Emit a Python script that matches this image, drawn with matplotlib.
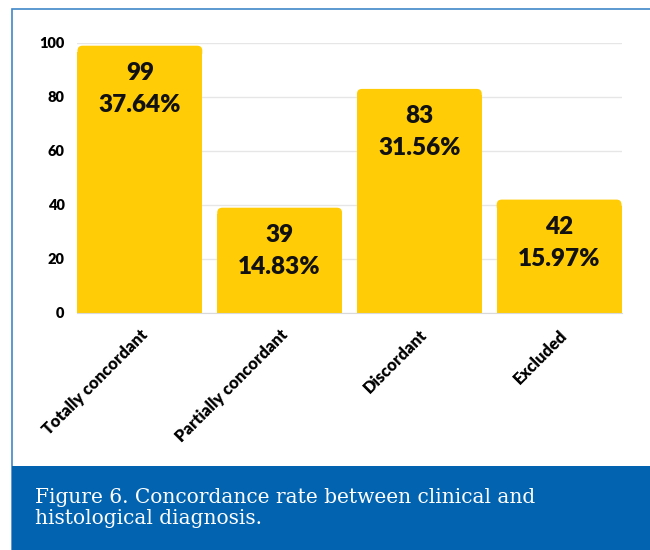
import matplotlib.pyplot as plt
from matplotlib.patches import Rectangle, FancyBboxPatch
from matplotlib.transforms import ScaledTranslation

categories = ['Totally concordant', 'Partially concordant', 'Discordant', 'Excluded']
counts = [99, 39, 83, 42]
percents = ['37.64%', '14.83%', '31.56%', '15.97%']
yticks = [0, 20, 40, 60, 80, 100]
caption = 'Figure 6. Concordance rate between clinical and\nhistological diagnosis.'

BAR_COLOR = '#FFCC05'
BLUE = '#0264B1'


def main():
    plt.rcParams['font.family'] = ['Lato', 'DejaVu Sans']
    fig = plt.figure(figsize=(6.5, 5.5), dpi=100)

    # outer frame and caption band
    fig.patches.append(Rectangle((12 / 650, 0), 1, 541 / 550, transform=fig.transFigure,
                                 fill=False, edgecolor='#3F86C8', linewidth=1.2))
    fig.patches.append(Rectangle((12 / 650, 0), 1, 84 / 550, transform=fig.transFigure,
                                 facecolor=BLUE, edgecolor='none'))
    fig.text(35 / 650, 42 / 550, caption, transform=fig.transFigure, color='white',
             fontsize=14.5, family=['DejaVu Serif'], va='center', ha='left',
             linespacing=1.15)

    ax = fig.add_axes([77 / 650, 237 / 550, 545 / 650, 270 / 550])
    x = list(range(len(categories)))
    width = 125 / 140
    bars = ax.bar(x, counts, width=width, color=BAR_COLOR, zorder=2)

    # round the top corners: rounded box on top, bars stay underneath
    px_x = 545 / 3.9   # pixels per x unit
    px_y = 270 / 100   # pixels per y unit
    r = 5 / px_x
    for b in bars:
        bx, bw, bh = b.get_x(), b.get_width(), b.get_height()
        b.set_height(bh - 6 / px_y)
        ax.add_patch(FancyBboxPatch((bx, bh - 12 / px_y), bw, 12 / px_y,
                                    boxstyle=f'round,pad=0,rounding_size={r}',
                                    mutation_aspect=px_x / px_y,
                                    facecolor=BAR_COLOR, edgecolor='none',
                                    linewidth=0, zorder=2))

    for i, (c, p) in enumerate(zip(counts, percents)):
        ax.text(i, c - 6.0, f'{c}\n{p}', ha='center', va='top', fontsize=17.5,
                fontweight='heavy', color='#111111', linespacing=1.55, zorder=3)

    ax.set_xlim(-0.45, 3.45)
    ax.set_ylim(0, 100)
    ax.set_yticks(yticks)
    ax.set_yticklabels([str(t) for t in yticks], fontweight='heavy', fontsize=10.5)
    ax.set_xticks(x)
    ax.set_xticklabels(categories, rotation=45, ha='right', rotation_mode='anchor',
                       fontweight='heavy', fontsize=12)
    shift = ScaledTranslation(-12 / 100, 0, fig.dpi_scale_trans)
    for lab in ax.get_xticklabels():
        lab.set_transform(lab.get_transform() + shift)
    ax.tick_params(axis='both', length=0)
    ax.tick_params(axis='y', pad=9)
    ax.tick_params(axis='x', pad=10)
    ax.grid(axis='y', color='#E6E6E6', linewidth=1, zorder=0)
    for s in ['top', 'right', 'left']:
        ax.spines[s].set_visible(False)
    ax.spines['bottom'].set_color('#D9D9D9')

    fig.savefig('out.png', dpi=100)


if __name__ == "__main__":
    main()
